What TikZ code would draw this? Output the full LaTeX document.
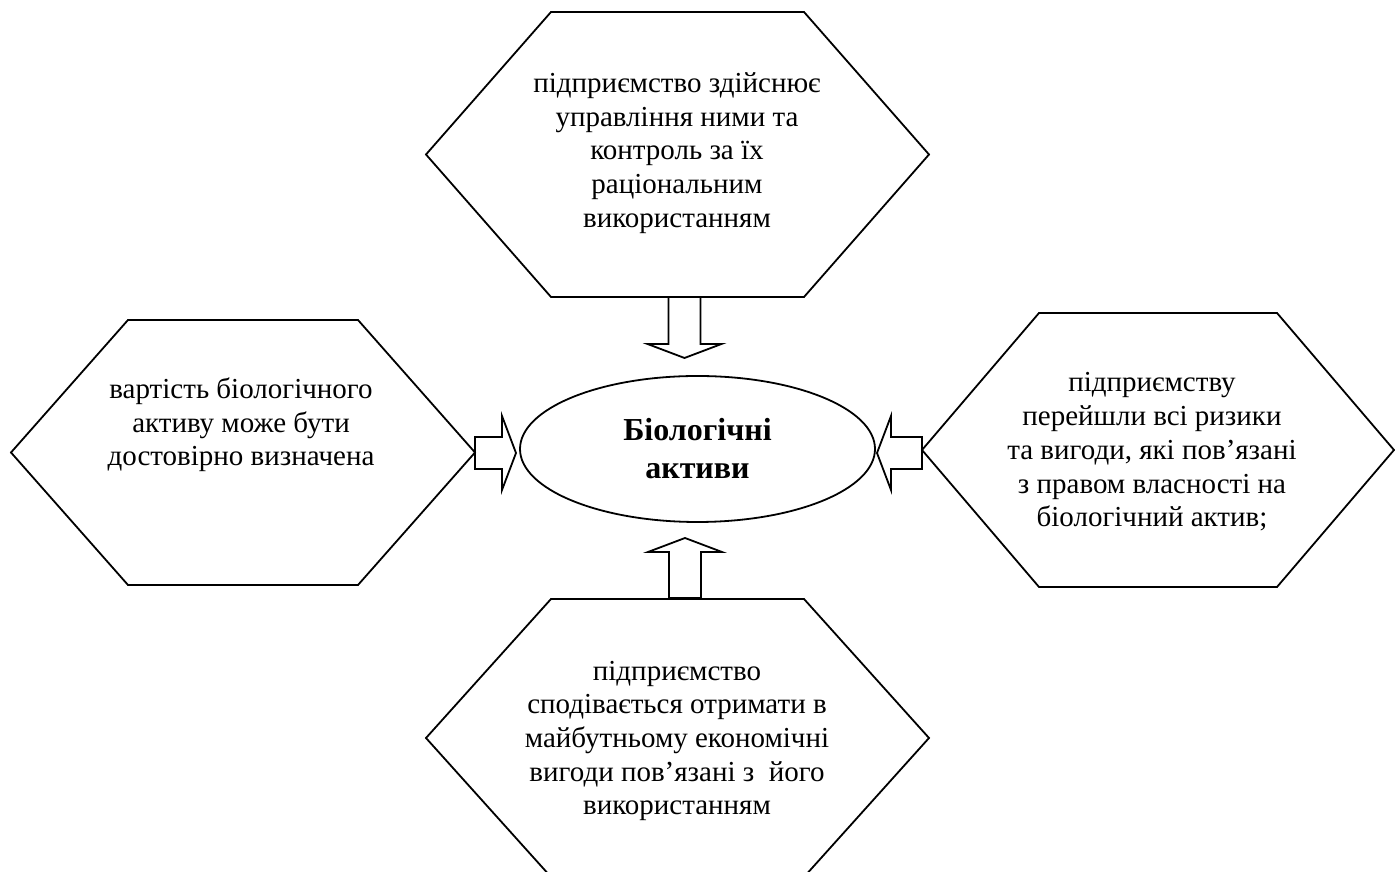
\documentclass[tikz,border=0pt]{standalone}
\usepackage{fontspec}
\setmainfont{Liberation Serif}
\usetikzlibrary{shapes.geometric,calc}

\tikzset{
  hexline/.style={line width=1.8pt, line join=miter},
  hextext/.style={align=center, inner sep=0pt, font=\fontsize{29}{33.7}\selectfont},
  centre/.style={ellipse, draw, line width=1.8pt, align=center, inner sep=0pt,
    minimum width=355pt, minimum height=146pt, font=\fontsize{32}{38}\selectfont\bfseries},
}

% hexagon: centre, half width, half height, inset of the flat edges
\newcommand{\hexagon}[4]{%
  \draw[hexline] (#1) ++({-#2},0) -- ++({#4},{#3}) -- ++({2*#2-2*#4},0)
    -- ++({#4},{-#3}) -- ++({-#4},{-#3}) -- ++({-2*#2+2*#4},0) -- cycle;}

% hollow block arrow from base to tip
\newcommand{\fatarrow}[2]{%
  \path ($(#2)!14pt!(#1)$) coordinate (neck);
  \draw[hexline] ($(#1)!16pt!90:(#2)$) -- ($(neck)!16pt!90:(#2)$)
    -- ($(neck)!37pt!90:(#2)$) -- (#2) -- ($(neck)!37pt!-90:(#2)$)
    -- ($(neck)!16pt!-90:(#2)$) -- ($(#1)!16pt!-90:(#2)$) -- cycle;}

\begin{document}
\begin{tikzpicture}[x=1pt,y=1pt]
\useasboundingbox (0,0) rectangle (1395,872);
\clip (0,0) rectangle (1395,872);

% centres of the four hexagons
\coordinate (tophex) at (677.5,717.5);
\coordinate (lefthex) at (243,419.5);
\coordinate (righthex) at (1158,422);
\coordinate (bothex) at (677.5,134);

\hexagon{tophex}{251.5}{142.5}{125}
\hexagon{lefthex}{232}{132.5}{117}
\hexagon{righthex}{236}{137}{117}
\hexagon{bothex}{251.5}{139}{125}

\node[centre] (bio) at (697.5,423) {Біологічні\\активи};

\node[hextext] (toptext) at (677,719) {підприємство здійснює\\управління ними та\\контроль за їх\\раціональним\\використанням};
\node[hextext] (lefttext) at (241,447) {вартість біологічного\\активу може бути\\достовірно визначена};
\node[hextext] (righttext) at (1152,420) {підприємству\\перейшли всі ризики\\та вигоди, які пов’язані\\з правом власності на\\біологічний актив;};
\node[hextext] (bottext) at (677,131) {підприємство\\сподівається отримати в\\майбутньому економічні\\вигоди пов’язані з~ його\\використанням};

% arrows into the ellipse
\coordinate (tb) at (684.5,575);
\coordinate (tt) at (684.5,514);
\coordinate (bb) at (685,274);
\coordinate (bt) at (685,334);
\coordinate (lb) at (475,419);
\coordinate (lt) at (516,419);
\coordinate (rb) at (922,419);
\coordinate (rt) at (877,419);

\fatarrow{tb}{tt}
\fatarrow{bb}{bt}
\fatarrow{lb}{lt}
\fatarrow{rb}{rt}

\end{tikzpicture}
\end{document}
